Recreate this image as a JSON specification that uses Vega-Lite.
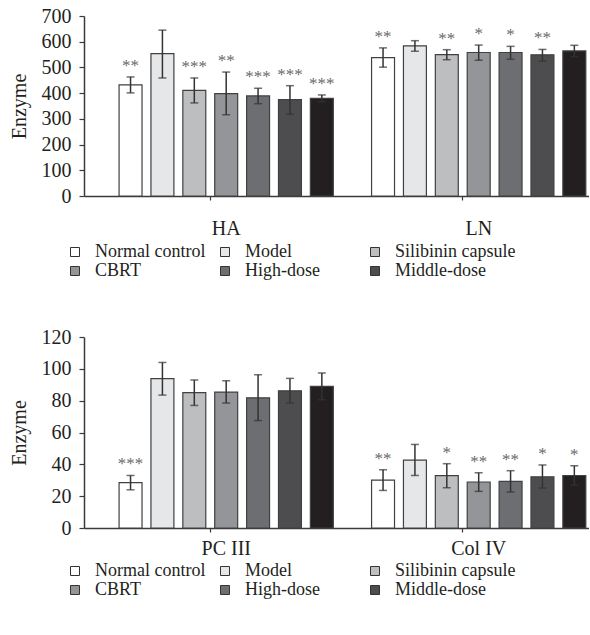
{
  "$schema": "https://vega.github.io/schema/vega-lite/v6.json",
  "padding": {"top": 6, "left": 9, "right": 0, "bottom": 0},
  "background": "white",
  "datasets": {
    "d": [
      {"panel": "top", "marker": "HA", "group": "Normal control", "value": 432, "lo": 401, "hi": 463, "sig": "**"},
      {"panel": "top", "marker": "HA", "group": "Model", "value": 554, "lo": 459, "hi": 645, "sig": ""},
      {"panel": "top", "marker": "HA", "group": "Silibinin capsule", "value": 411, "lo": 362, "hi": 459, "sig": "***"},
      {"panel": "top", "marker": "HA", "group": "CBRT", "value": 398, "lo": 316, "hi": 482, "sig": "**"},
      {"panel": "top", "marker": "HA", "group": "High-dose", "value": 389, "lo": 359, "hi": 419, "sig": "***"},
      {"panel": "top", "marker": "HA", "group": "Middle-dose", "value": 375, "lo": 318, "hi": 429, "sig": "***"},
      {"panel": "top", "marker": "HA", "group": "Low-dose", "value": 380, "lo": 367, "hi": 393, "sig": "***"},
      {"panel": "top", "marker": "LN", "group": "Normal control", "value": 538, "lo": 501, "hi": 576, "sig": "**"},
      {"panel": "top", "marker": "LN", "group": "Model", "value": 584, "lo": 563, "hi": 604, "sig": ""},
      {"panel": "top", "marker": "LN", "group": "Silibinin capsule", "value": 550, "lo": 530, "hi": 569, "sig": "**"},
      {"panel": "top", "marker": "LN", "group": "CBRT", "value": 558, "lo": 528, "hi": 587, "sig": "*"},
      {"panel": "top", "marker": "LN", "group": "High-dose", "value": 558, "lo": 532, "hi": 582, "sig": "*"},
      {"panel": "top", "marker": "LN", "group": "Middle-dose", "value": 549, "lo": 524, "hi": 570, "sig": "**"},
      {"panel": "top", "marker": "LN", "group": "Low-dose", "value": 564, "lo": 542, "hi": 586, "sig": ""},
      {"panel": "bottom", "marker": "PC III", "group": "Normal control", "value": 28.5, "lo": 24, "hi": 33, "sig": "***"},
      {"panel": "bottom", "marker": "PC III", "group": "Model", "value": 93.8, "lo": 83.5, "hi": 104, "sig": ""},
      {"panel": "bottom", "marker": "PC III", "group": "Silibinin capsule", "value": 85, "lo": 77, "hi": 93, "sig": ""},
      {"panel": "bottom", "marker": "PC III", "group": "CBRT", "value": 85.4, "lo": 78.5, "hi": 92.5, "sig": ""},
      {"panel": "bottom", "marker": "PC III", "group": "High-dose", "value": 81.8, "lo": 67.5, "hi": 96.3, "sig": ""},
      {"panel": "bottom", "marker": "PC III", "group": "Middle-dose", "value": 86.2, "lo": 78.5, "hi": 94, "sig": ""},
      {"panel": "bottom", "marker": "PC III", "group": "Low-dose", "value": 89, "lo": 80.6, "hi": 97.4, "sig": ""},
      {"panel": "bottom", "marker": "Col IV", "group": "Normal control", "value": 30.1, "lo": 23.6, "hi": 36.6, "sig": "**"},
      {"panel": "bottom", "marker": "Col IV", "group": "Model", "value": 42.7, "lo": 33, "hi": 52.5, "sig": ""},
      {"panel": "bottom", "marker": "Col IV", "group": "Silibinin capsule", "value": 32.9, "lo": 25.3, "hi": 40.4, "sig": "*"},
      {"panel": "bottom", "marker": "Col IV", "group": "CBRT", "value": 28.9, "lo": 23, "hi": 34.7, "sig": "**"},
      {"panel": "bottom", "marker": "Col IV", "group": "High-dose", "value": 29.3, "lo": 22.6, "hi": 36, "sig": "**"},
      {"panel": "bottom", "marker": "Col IV", "group": "Middle-dose", "value": 32.2, "lo": 25.1, "hi": 39.6, "sig": "*"},
      {"panel": "bottom", "marker": "Col IV", "group": "Low-dose", "value": 33, "lo": 26.9, "hi": 39.1, "sig": "*"}
    ]
  },
  "config": {
    "font": "Liberation Serif",
    "view": {"stroke": null},
    "axis": {
      "grid": false,
      "domainColor": "#3a3a3a",
      "tickColor": "#3a3a3a",
      "labelColor": "#231f20",
      "titleColor": "#231f20",
      "labelFont": "Liberation Serif",
      "titleFont": "Liberation Serif",
      "labelFontSize": 20,
      "titleFontSize": 20,
      "titleFontWeight": "normal",
      "domainWidth": 1.5,
      "tickWidth": 1.2,
      "labelOverlap": false
    },
    "legend": {
      "labelFont": "Liberation Serif",
      "labelFontSize": 18,
      "labelColor": "#231f20",
      "padding": 0
    },
    "concat": {"spacing": 47}
  },
  "resolve": {
    "scale": {"fill": "independent", "y": "independent", "x": "independent", "xOffset": "independent"},
    "legend": {"fill": "independent"}
  },
  "vconcat": [
    {
      "width": 505,
      "height": 180,
      "data": {"name": "d"},
      "transform": [{"filter": "datum.panel == 'top'"}],
      "encoding": {
        "x": {"field": "marker", "type": "nominal", "sort": ["HA", "LN"], "scale": {"paddingInner": 0, "paddingOuter": 0},
              "axis": {"title": null, "labelAngle": 0, "tickSize": 4, "labelPadding": 18, "labelOffset": 16}},
        "xOffset": {"field": "group", "type": "nominal",
                    "scale": {"domain": ["_", "Normal control", "Model", "Silibinin capsule", "CBRT", "High-dose", "Middle-dose", "Low-dose"], "paddingInner": 0.28, "paddingOuter": 0.1}}
      },
      "layer": [
        {
          "mark": {"type": "bar", "stroke": "#414042", "strokeWidth": 1.2},
          "encoding": {
            "y": {"field": "value", "type": "quantitative", "title": "Enzyme",
                  "scale": {"domain": [0, 700], "nice": false},
                  "axis": {"values": [0, 100, 200, 300, 400, 500, 600, 700], "tickSize": 5, "labelPadding": 8, "titlePadding": 12}},
            "fill": {"field": "group", "type": "nominal",
                     "scale": {"domain": ["Normal control", "Model", "Silibinin capsule", "CBRT", "High-dose", "Middle-dose", "Low-dose"],
                               "range": ["#ffffff", "#e6e7e8", "#bcbec0", "#939598", "#6d6e71", "#4d4d4f", "#231f20"]},
                     "legend": {"orient": "none", "direction": "horizontal", "legendX": -18, "legendY": 227, "columns": 3, "gridAlign": "all", "title": null,
                                "values": ["Normal control", "Model", "Silibinin capsule", "CBRT", "High-dose", "Middle-dose"],
                                "symbolType": "square", "symbolSize": 81, "symbolStrokeColor": "#333333", "symbolStrokeWidth": 1,
                                "labelOffset": 11, "columnPadding": -2, "rowPadding": 1}}
          }
        },
        {
          "mark": {"type": "rule", "color": "#333333", "strokeWidth": 1.5},
          "encoding": {"y": {"field": "lo", "type": "quantitative", "title": "Enzyme",
                             "axis": {"values": [0, 100, 200, 300, 400, 500, 600, 700], "tickSize": 5, "labelPadding": 8, "titlePadding": 12}},
                       "y2": {"field": "hi"}}
        },
        {
          "mark": {"type": "tick", "color": "#333333", "thickness": 1.5, "size": 8},
          "encoding": {"y": {"field": "lo", "type": "quantitative", "title": "Enzyme",
                             "axis": {"values": [0, 100, 200, 300, 400, 500, 600, 700], "tickSize": 5, "labelPadding": 8, "titlePadding": 12}}}
        },
        {
          "mark": {"type": "tick", "color": "#333333", "thickness": 1.5, "size": 8},
          "encoding": {"y": {"field": "hi", "type": "quantitative", "title": "Enzyme",
                             "axis": {"values": [0, 100, 200, 300, 400, 500, 600, 700], "tickSize": 5, "labelPadding": 8, "titlePadding": 12}}}
        },
        {
          "transform": [{"filter": "datum.sig != ''"}],
          "mark": {"type": "text", "color": "#6a6a6a", "fontSize": 17, "baseline": "alphabetic", "dy": -6},
          "encoding": {"y": {"field": "hi", "type": "quantitative", "title": "Enzyme",
                             "axis": {"values": [0, 100, 200, 300, 400, 500, 600, 700], "tickSize": 5, "labelPadding": 8, "titlePadding": 12}},
                       "text": {"field": "sig"}}
        }
      ]
    },
    {
      "width": 505,
      "height": 191,
      "data": {"name": "d"},
      "transform": [{"filter": "datum.panel == 'bottom'"}],
      "encoding": {
        "x": {"field": "marker", "type": "nominal", "sort": ["PC III", "Col IV"], "scale": {"paddingInner": 0, "paddingOuter": 0},
              "axis": {"title": null, "labelAngle": 0, "tickSize": 4, "labelPadding": 6, "labelOffset": 16}},
        "xOffset": {"field": "group", "type": "nominal",
                    "scale": {"domain": ["_", "Normal control", "Model", "Silibinin capsule", "CBRT", "High-dose", "Middle-dose", "Low-dose"], "paddingInner": 0.28, "paddingOuter": 0.1}}
      },
      "layer": [
        {
          "mark": {"type": "bar", "stroke": "#414042", "strokeWidth": 1.2},
          "encoding": {
            "y": {"field": "value", "type": "quantitative", "title": "Enzyme",
                  "scale": {"domain": [0, 120], "nice": false},
                  "axis": {"values": [0, 20, 40, 60, 80, 100, 120], "tickSize": 5, "labelPadding": 8, "titlePadding": 12}},
            "fill": {"field": "group", "type": "nominal",
                     "scale": {"domain": ["Normal control", "Model", "Silibinin capsule", "CBRT", "High-dose", "Middle-dose", "Low-dose"],
                               "range": ["#ffffff", "#e6e7e8", "#bcbec0", "#939598", "#6d6e71", "#4d4d4f", "#231f20"]},
                     "legend": {"orient": "none", "direction": "horizontal", "legendX": -18, "legendY": 225, "columns": 3, "gridAlign": "all", "title": null,
                                "values": ["Normal control", "Model", "Silibinin capsule", "CBRT", "High-dose", "Middle-dose"],
                                "symbolType": "square", "symbolSize": 81, "symbolStrokeColor": "#333333", "symbolStrokeWidth": 1,
                                "labelOffset": 11, "columnPadding": -2, "rowPadding": 1}}
          }
        },
        {
          "mark": {"type": "rule", "color": "#333333", "strokeWidth": 1.5},
          "encoding": {"y": {"field": "lo", "type": "quantitative", "title": "Enzyme",
                             "axis": {"values": [0, 20, 40, 60, 80, 100, 120], "tickSize": 5, "labelPadding": 8, "titlePadding": 12}},
                       "y2": {"field": "hi"}}
        },
        {
          "mark": {"type": "tick", "color": "#333333", "thickness": 1.5, "size": 8},
          "encoding": {"y": {"field": "lo", "type": "quantitative", "title": "Enzyme",
                             "axis": {"values": [0, 20, 40, 60, 80, 100, 120], "tickSize": 5, "labelPadding": 8, "titlePadding": 12}}}
        },
        {
          "mark": {"type": "tick", "color": "#333333", "thickness": 1.5, "size": 8},
          "encoding": {"y": {"field": "hi", "type": "quantitative", "title": "Enzyme",
                             "axis": {"values": [0, 20, 40, 60, 80, 100, 120], "tickSize": 5, "labelPadding": 8, "titlePadding": 12}}}
        },
        {
          "transform": [{"filter": "datum.sig != ''"}],
          "mark": {"type": "text", "color": "#6a6a6a", "fontSize": 17, "baseline": "alphabetic", "dy": -6},
          "encoding": {"y": {"field": "hi", "type": "quantitative", "title": "Enzyme",
                             "axis": {"values": [0, 20, 40, 60, 80, 100, 120], "tickSize": 5, "labelPadding": 8, "titlePadding": 12}},
                       "text": {"field": "sig"}}
        }
      ]
    }
  ]
}
